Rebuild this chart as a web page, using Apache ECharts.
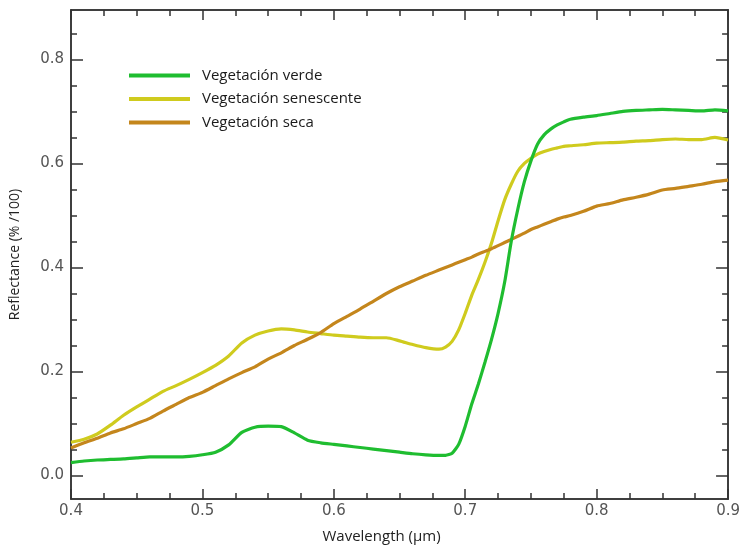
<!DOCTYPE html>
<html>
<head>
<meta charset="utf-8">
<script src="https://cdn.jsdelivr.net/npm/echarts@6/dist/echarts.min.js"></script>
<style>
html,body{margin:0;padding:0;background:#fff;}
#chart{width:743px;height:549px;}
</style>
</head>
<body>
<div id="chart"></div>
<script>
// Wavelength samples (µm)
const wavelengths = [0.40,0.41,0.42,0.43,0.44,0.45,0.46,0.47,0.48,0.49,
  0.50,0.51,0.52,0.53,0.54,0.55,0.56,0.57,0.58,0.59,
  0.60,0.61,0.62,0.63,0.64,0.65,0.66,0.67,0.68,
  0.685,0.69,0.695,0.70,0.705,0.71,0.715,0.72,0.725,0.73,0.735,0.74,0.745,0.75,0.755,0.76,0.765,0.77,0.775,0.78,
  0.79,0.80,0.81,0.82,0.83,0.84,0.85,0.86,0.87,0.88,0.89,0.90];

const verde = [0.025,0.028,0.030,0.031,0.032,0.034,0.036,0.036,0.036,0.037,
  0.040,0.045,0.059,0.083,0.093,0.095,0.094,0.082,0.068,0.063,
  0.060,0.057,0.054,0.051,0.048,0.045,0.042,0.040,0.039,
  0.039,0.043,0.060,0.095,0.138,0.176,0.218,0.262,0.312,0.372,0.450,0.512,0.565,0.605,0.637,0.655,0.666,0.674,0.680,0.685,
  0.689,0.692,0.696,0.700,0.702,0.703,0.704,0.703,0.702,0.701,0.703,0.701];

const senescente = [0.064,0.070,0.080,0.097,0.116,0.132,0.147,0.162,0.173,0.185,
  0.198,0.212,0.230,0.255,0.270,0.278,0.282,0.280,0.276,0.273,
  0.270,0.268,0.266,0.265,0.265,0.259,0.252,0.246,0.243,
  0.247,0.258,0.280,0.312,0.347,0.377,0.410,0.447,0.490,0.530,0.560,0.585,0.600,0.610,0.618,0.623,0.627,0.630,0.633,0.634,
  0.636,0.639,0.640,0.641,0.643,0.644,0.646,0.647,0.646,0.646,0.650,0.645];

const seca = [0.053,0.063,0.072,0.082,0.090,0.100,0.110,0.124,0.137,0.150,
  0.160,0.173,0.186,0.198,0.209,0.224,0.236,0.250,0.262,0.275,
  0.292,0.306,0.320,0.335,0.350,0.363,0.374,0.385,0.395,
  0.400,0.405,0.410,0.415,0.420,0.426,0.431,0.436,0.442,0.448,0.454,0.460,0.466,0.473,0.478,0.483,0.488,0.493,0.497,0.500,
  0.508,0.518,0.523,0.530,0.535,0.541,0.549,0.552,0.556,0.560,0.565,0.568];

const seriesNames = ['Vegetación verde','Vegetación senescente','Vegetación seca'];
const xTickLabels = [0.4,0.5,0.6,0.7,0.8,0.9];
const xMinorTicks = [0.425,0.45,0.475,0.525,0.55,0.575,0.625,0.65,0.675,0.725,0.75,0.775,0.825,0.85,0.875];
const yTickLabels = [0.0,0.2,0.4,0.6,0.8];
const yMinorTicks = [0.05,0.1,0.15,0.25,0.3,0.35,0.45,0.5,0.55,0.65,0.7,0.75,0.85];

const colors = ['#1fbd30','#cfcb1e','#c4861c'];
const pairs = arr => wavelengths.map((w,i)=>[w,arr[i]]);

const axisCol = '#333';
const labelFont = {fontFamily:'DejaVu Sans',fontSize:15,color:'#555'};

function xAx(pos, ticks, len, labels){
  return {
    type:'value', position:pos, min:0.4, max:0.9,
    axisLine:{show:true,onZero:false,lineStyle:{color:axisCol,width:1.5}},
    axisTick:{show:true,inside:true,length:len,customValues:ticks,lineStyle:{color:axisCol,width:1.5}},
    splitLine:{show:false},
    axisLabel: labels ? Object.assign({show:true,margin:5,customValues:xTickLabels,formatter:v=>Number(v).toFixed(1)},labelFont) : {show:false},
    name: labels ? 'Wavelength (µm)' : '',
    nameLocation:'middle', nameGap:30,
    nameTextStyle:{fontFamily:'Open Sans',fontSize:15,color:'#222',padding:[0,36,0,0]}
  };
}
function yAx(pos, ticks, len, labels){
  return {
    type:'value', position:pos, min:-0.045, max:0.895,
    axisLine:{show:true,onZero:false,lineStyle:{color:axisCol,width:1.5}},
    axisTick:{show:true,inside:true,length:len,customValues:ticks,lineStyle:{color:axisCol,width:1.5}},
    splitLine:{show:false},
    axisLabel: labels ? Object.assign({show:true,margin:7,customValues:yTickLabels,formatter:v=>Number(v).toFixed(1)},labelFont) : {show:false},
    name: labels ? 'Reflectance (% /100)' : '',
    nameLocation:'middle', nameGap:49,
    nameTextStyle:{fontFamily:'Open Sans',fontSize:14,color:'#222'}
  };
}

const chart = echarts.init(document.getElementById('chart'), null, {renderer:'canvas'});
chart.setOption({
  animation:false,
  backgroundColor:'#fff',
  grid:{left:68,right:13,top:10,bottom:42,containLabel:false},
  legend:{
    orient:'vertical', left:129, top:68, padding:0,
    icon:'rect', itemWidth:61, itemHeight:4, itemGap:8.5,
    data:seriesNames,
    textStyle:{fontFamily:'Open Sans',fontSize:15,color:'#1a1a1a',padding:[0,0,0,7]}
  },
  xAxis:[
    xAx('bottom',xTickLabels,10,true),
    xAx('bottom',xMinorTicks,6,false),
    xAx('top',xTickLabels,10,false),
    xAx('top',xMinorTicks,6,false)
  ],
  yAxis:[
    yAx('left',yTickLabels,12,true),
    yAx('left',yMinorTicks,6,false),
    yAx('right',yTickLabels,12,false),
    yAx('right',yMinorTicks,6,false)
  ],
  series:[
    {name:seriesNames[0],type:'line',data:pairs(verde),showSymbol:false,symbol:'none',smooth:0.2,z:4,
      color:colors[0],itemStyle:{color:colors[0]},lineStyle:{color:colors[0],width:3.2}},
    {name:seriesNames[1],type:'line',data:pairs(senescente),showSymbol:false,symbol:'none',smooth:0.2,z:2,
      color:colors[1],itemStyle:{color:colors[1]},lineStyle:{color:colors[1],width:3.2}},
    {name:seriesNames[2],type:'line',data:pairs(seca),showSymbol:false,symbol:'none',smooth:0.2,z:3,
      color:colors[2],itemStyle:{color:colors[2]},lineStyle:{color:colors[2],width:3.2}}
  ]
});
</script>
</body>
</html>
